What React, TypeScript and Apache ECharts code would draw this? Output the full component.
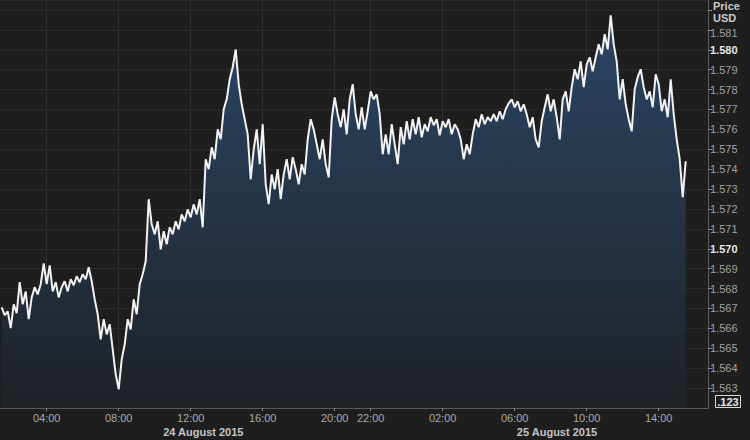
import React, { useEffect, useRef } from "react";
import * as echarts from "echarts";

// GBP/USD style intraday price, sampled every 10 minutes (hours since 24 Aug 2015 00:00)
const startHour = 1.5;
const stepHours = 1 / 6;

// 24 August 2015, 01:30 .. 23:50
const day1Values = [
  1.56706, 1.56666, 1.56686, 1.56601, 1.56721, 1.56676, 1.56832, 1.56721, 1.56786, 1.56646,
  1.56756, 1.56807, 1.56771, 1.56822, 1.56927, 1.56822, 1.56917, 1.56786, 1.56832, 1.56756,
  1.56807, 1.56837, 1.56786, 1.56847, 1.56817, 1.56862, 1.56832, 1.56872, 1.56847, 1.56907,
  1.56837, 1.56746, 1.56671, 1.56545, 1.56646, 1.5657, 1.56621, 1.56495, 1.56369, 1.56294,
  1.56445, 1.5652, 1.56646, 1.56595, 1.56746, 1.56671, 1.56822, 1.56872, 1.56937, 1.57249,
  1.57123, 1.57073, 1.57138, 1.56997, 1.57088, 1.57023, 1.57108, 1.57073, 1.57138, 1.57098,
  1.57173, 1.57138, 1.57198, 1.57158, 1.57224, 1.57173, 1.57249, 1.57108, 1.5745, 1.574,
  1.5751, 1.5745, 1.576, 1.5755, 1.57701, 1.57751, 1.57852, 1.57912, 1.58002, 1.57827,
  1.57726, 1.57651, 1.57575, 1.57349, 1.575, 1.576, 1.57425, 1.57626, 1.57324, 1.57224,
  1.57374, 1.57299, 1.574, 1.57249, 1.57374, 1.5745, 1.57349, 1.5746, 1.574, 1.57324,
  1.57425, 1.57374, 1.5755, 1.57651, 1.576, 1.57525, 1.5745, 1.5755, 1.57425, 1.57359,
  1.57651, 1.57761, 1.57676, 1.57611, 1.57701, 1.57575, 1.57751, 1.57827, 1.57676, 1.576,
  1.57711, 1.576, 1.57691, 1.57791, 1.57751, 1.57776, 1.57676, 1.57475, 1.57575, 1.57475,
  1.57626, 1.57525, 1.57425, 1.57611, 1.57525,
];

// 25 August 2015, 00:00 .. 15:30
const day2Values = [
  1.57641, 1.5755, 1.57651, 1.57575, 1.57661, 1.5756, 1.57626, 1.5759, 1.57661, 1.57621,
  1.57651, 1.5757, 1.57641, 1.57611, 1.57651, 1.57575, 1.57626, 1.576, 1.5755, 1.5745,
  1.57525, 1.57475, 1.57575, 1.57651, 1.57611, 1.57676, 1.57626, 1.57661, 1.57641, 1.57676,
  1.57641, 1.57691, 1.57651, 1.57701, 1.57731, 1.57751, 1.57711, 1.57741, 1.57691, 1.57726,
  1.57676, 1.57611, 1.57661, 1.5755, 1.5751, 1.57641, 1.57711, 1.57776, 1.57691, 1.57751,
  1.57661, 1.5755, 1.57751, 1.57791, 1.57691, 1.57812, 1.57902, 1.57852, 1.57942, 1.57812,
  1.57927, 1.57962, 1.57892, 1.57962, 1.58028, 1.57977, 1.58078, 1.58002, 1.58173, 1.58028,
  1.57942, 1.57751, 1.57852, 1.57726, 1.57651, 1.5759, 1.57801, 1.57862, 1.57902, 1.57812,
  1.57751, 1.57791, 1.57711, 1.57877, 1.57827, 1.57691, 1.57751, 1.57661, 1.57852, 1.57676,
  1.5755, 1.5745, 1.57259, 1.5744,
];

const tickHours = [4, 8, 12, 16, 20, 22, 26, 30, 34, 38];
const dateLabels = ["24 August 2015", "25 August 2015"];
const dateLabelHours = [12.7, 32.35];
const axisTitle = ["Price", "USD"];
const decimalsLabel = ".123";

const FONT = "'Liberation Sans', Arial, sans-serif";

export default function App() {
  const ref = useRef<HTMLDivElement>(null);

  useEffect(() => {
    if (!ref.current) return;
    const chart = echarts.init(ref.current, null, { renderer: "svg" });
    const values = [...day1Values, ...day2Values];
    const data = values.map((v, i) => [startHour + i * stepHours, v]);
    const last = values[values.length - 1];

    const xMin = 1.5 - 1.7 / 18;
    const xMax = xMin + 708 / 18;

    chart.setOption({
      animation: false,
      backgroundColor: "#1e1e1e",
      textStyle: { fontFamily: FONT },
      grid: { left: 0, right: 42, top: 0, bottom: 32, containLabel: false },
      xAxis: {
        type: "value",
        min: xMin,
        max: xMax,
        axisLine: { show: true, lineStyle: { color: "#5a5a5a", width: 1 } },
        axisTick: {
          show: true,
          customValues: tickHours,
          length: 3,
          lineStyle: { color: "#8a8a8a" },
        },
        axisLabel: {
          customValues: tickHours,
          color: "#a8a8a8",
          fontSize: 11,
          fontFamily: FONT,
          margin: 4,
          formatter: (h: number) => {
            const hh = Math.round(h) % 24;
            return (hh < 10 ? "0" : "") + hh + ":00";
          },
        },
        splitLine: { show: true, lineStyle: { color: "#2e2e2e", width: 1 } },
      },
      yAxis: {
        type: "value",
        position: "right",
        min: 1.562,
        max: 1.5825,
        interval: 0.001,
        axisLine: { show: true, lineStyle: { color: "#5a5a5a", width: 1 } },
        axisTick: { show: true, length: 4, lineStyle: { color: "#8a8a8a" } },
        axisLabel: {
          showMinLabel: false,
          showMaxLabel: false,
          margin: 2,
          color: "#a0a0a0",
          fontSize: 11,
          fontFamily: FONT,
          formatter: (v: number) => {
            const m = Math.round(v * 1000);
            if (m > 1581) return "";
            const s = (m / 1000).toFixed(3);
            if (m === 1581) return "{t|" + s + "}";
            return m % 10 === 0 ? "{b|" + s + "}" : s;
          },
          rich: {
            b: { color: "#e6e6e6", fontWeight: "bold", fontSize: 11, fontFamily: FONT },
            t: { color: "#a0a0a0", fontSize: 11, fontFamily: FONT, padding: [6, 0, 0, 0] },
          },
        },
        splitLine: { show: true, lineStyle: { color: "#2b2b2b", width: 1 } },
      },
      series: [
        {
          type: "line",
          data,
          showSymbol: false,
          lineStyle: { color: "#f2f2f2", width: 2 },
          areaStyle: {
            color: new echarts.graphic.LinearGradient(0, 0, 0, 1, [
              { offset: 0, color: "#2a4565" },
              { offset: 1, color: "#1f2227" },
            ]),
            opacity: 1,
          },
          markLine: {
            silent: true,
            symbol: "none",
            lineStyle: { width: 0, opacity: 0 },
            data: [{ yAxis: last }],
            label: {
              show: true,
              position: "end",
              distance: 1,
              formatter: () => last.toFixed(3),
              backgroundColor: "#ffffff",
              color: "#000000",
              fontWeight: "bold",
              fontSize: 11,
              fontFamily: FONT,
              padding: [1, 3, 0, 2],
            },
          },
        },
      ],
    });

    const dateGraphics = dateLabels.map((t, i) => ({
      type: "text",
      x: chart.convertToPixel({ xAxisIndex: 0 }, dateLabelHours[i]) as number,
      y: 432,
      style: {
        text: t,
        fill: "#c4c4c4",
        font: "bold 11px " + FONT,
        textAlign: "center",
        textVerticalAlign: "middle",
      },
    }));

    chart.setOption({
      graphic: [
        ...dateGraphics,
        {
          type: "text",
          x: 713,
          y: 0,
          style: { text: axisTitle[0], fill: "#c8c8c8", font: "bold 11px " + FONT },
        },
        {
          type: "text",
          x: 713,
          y: 12,
          style: { text: axisTitle[1], fill: "#c8c8c8", font: "bold 11px " + FONT },
        },
        {
          type: "rect",
          shape: { x: 715.5, y: 395.5, width: 25, height: 12 },
          style: { fill: "none", stroke: "#d8d8d8", lineWidth: 1 },
        },
        {
          type: "text",
          x: 728,
          y: 402,
          style: {
            text: decimalsLabel,
            fill: "#e8e8e8",
            font: "bold 11px " + FONT,
            textAlign: "center",
            textVerticalAlign: "middle",
          },
        },
      ],
    });

    return () => chart.dispose();
  }, []);

  return (
    <div
      ref={ref}
      style={{ position: "fixed", left: 0, top: 0, width: 750, height: 440 }}
    />
  );
}
